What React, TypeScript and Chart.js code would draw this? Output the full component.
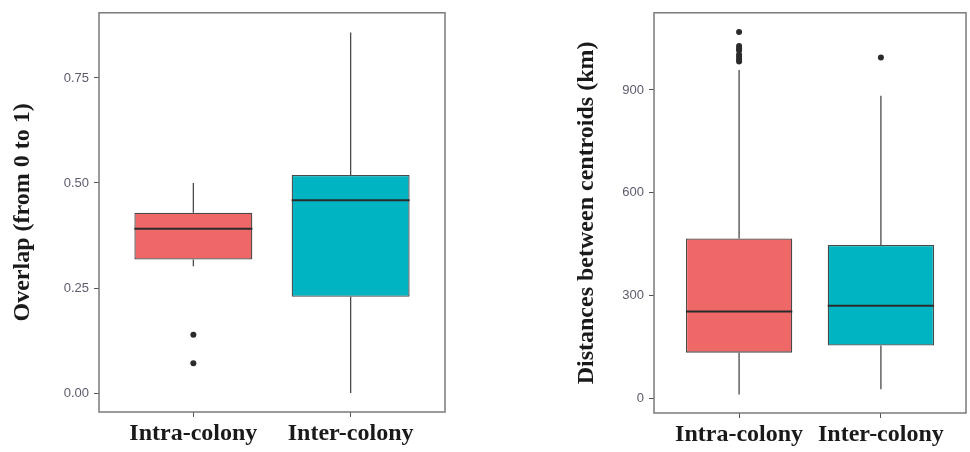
import React, { useEffect, useRef } from "react";
import { Chart, registerables } from "chart.js";

Chart.register(...registerables);

// ---- data ----
const categories = ["Intra-colony", "Inter-colony"];
const categoryPositions = [1, 2];
const boxColors = ["#EE6868", "#00B5C1"];

// Panel A: overlap
const overlapLow = [0.302, 0.0];
const overlapQ1 = [0.318, 0.229];
const overlapMedian = [0.391, 0.459];
const overlapQ3 = [0.429, 0.519];
const overlapHigh = [0.5, 0.858];
const overlapOutliersIntra = [0.139, 0.071];
const overlapOutliersInter: number[] = [];
const overlapTicks = [0, 0.25, 0.5, 0.75];

// Panel B: distances
const distLow = [12, 27];
const distQ1 = [134, 155];
const distMedian = [254, 271];
const distQ3 = [467, 448];
const distHigh = [958, 883];
const distOutliersIntra = [1069, 1028, 1021, 1015, 1003, 996, 989, 983];
const distOutliersInter = [995];
const distTicks = [0, 300, 600, 900];

type PanelSpec = {
  low: number[];
  q1: number[];
  median: number[];
  q3: number[];
  high: number[];
  outliers: number[][];
  ticks: number[];
  tickFormat: (v: number) => string;
  yMin: number;
  yMax: number;
  title: string;
  yAxisWidth: number;
  xAxisHeight: number;
  padTop: number;
  padRight: number;
  titleOffset: number;
};

const boxPlugin = (spec: PanelSpec) => ({
  id: "boxDecor",
  beforeDatasetsDraw(chart: any) {
    const meta = chart.getDatasetMeta(0);
    const y = chart.scales.y;
    const ctx = chart.ctx;
    ctx.save();
    ctx.strokeStyle = "#4a4a4a";
    ctx.lineWidth = 1.3;
    meta.data.forEach((el: any, i: number) => {
      const x = el.x;
      ctx.beginPath();
      ctx.moveTo(x, y.getPixelForValue(spec.q3[i]));
      ctx.lineTo(x, y.getPixelForValue(spec.high[i]));
      ctx.moveTo(x, y.getPixelForValue(spec.q1[i]));
      ctx.lineTo(x, y.getPixelForValue(spec.low[i]));
      ctx.stroke();
    });
    ctx.restore();
  },
  afterDatasetsDraw(chart: any) {
    const meta = chart.getDatasetMeta(0);
    const y = chart.scales.y;
    const ctx = chart.ctx;
    ctx.save();
    ctx.strokeStyle = "#2b2b2b";
    ctx.lineWidth = 2;
    meta.data.forEach((el: any, i: number) => {
      const py = y.getPixelForValue(spec.median[i]);
      ctx.beginPath();
      ctx.moveTo(el.x - el.width / 2, py);
      ctx.lineTo(el.x + el.width / 2, py);
      ctx.stroke();
    });
    ctx.restore();
  },
  afterDraw(chart: any) {
    const a = chart.chartArea;
    const ctx = chart.ctx;
    ctx.save();
    ctx.strokeStyle = "#7a7a7a";
    ctx.lineWidth = 1.5;
    ctx.strokeRect(a.left, a.top, a.right - a.left, a.bottom - a.top);
    ctx.restore();
  },
});

function BoxPanel({ spec }: { spec: PanelSpec }) {
  const ref = useRef<HTMLCanvasElement | null>(null);
  useEffect(() => {
    if (!ref.current) return;
    const outlierPoints: { x: number; y: number }[] = [];
    spec.outliers.forEach((arr, i) =>
      arr.forEach((v) => outlierPoints.push({ x: categoryPositions[i], y: v }))
    );
    const chart = new Chart(ref.current, {
      type: "bar",
      data: {
        datasets: [
          {
            type: "bar",
            data: categoryPositions.map((x, i) => ({ x, y: [spec.q1[i], spec.q3[i]] })) as any,
            backgroundColor: boxColors,
            borderColor: "#4a4a4a",
            borderWidth: 1.3,
            borderSkipped: false,
            categoryPercentage: 1,
            barPercentage: 0.75,
          } as any,
          {
            type: "scatter",
            data: outlierPoints,
            pointRadius: 3,
            pointBackgroundColor: "#2b2b2b",
            pointBorderWidth: 0,
            showLine: false,
          } as any,
        ],
      },
      options: {
        animation: false,
        responsive: false,
        devicePixelRatio: 1,
        layout: { padding: { top: spec.padTop, right: spec.padRight, left: 0, bottom: 0 } },
        plugins: { legend: { display: false }, tooltip: { enabled: false } },
        scales: {
          x: {
            type: "linear",
            min: 0.4,
            max: 2.6,
            offset: false,
            grid: {
              offset: false,
              drawOnChartArea: false,
              drawTicks: true,
              tickLength: 5,
              color: "#555555",
            },
            border: { display: false },
            afterBuildTicks: (scale: any) => {
              scale.ticks = categoryPositions.map((v) => ({ value: v }));
            },
            afterFit: (scale: any) => {
              scale.height = spec.xAxisHeight;
            },
            ticks: {
              padding: 2,
              color: "#1a1a1a",
              font: { family: "'Liberation Serif', serif", size: 24, weight: "bold" },
              callback: (v: any) => categories[categoryPositions.indexOf(Number(v))] ?? "",
              maxRotation: 0,
              autoSkip: false,
            },
          },
          y: {
            type: "linear",
            min: spec.yMin,
            max: spec.yMax,
            grid: {
              drawOnChartArea: false,
              drawTicks: true,
              tickLength: 5,
              color: "#555555",
            },
            border: { display: false },
            afterBuildTicks: (scale: any) => {
              scale.ticks = spec.ticks.map((v) => ({ value: v }));
            },
            afterFit: (scale: any) => {
              scale.width = spec.yAxisWidth;
            },
            ticks: {
              padding: 5,
              color: "#5E5A6E",
              font: { family: "'Liberation Sans', Arial, sans-serif", size: 13 },
              callback: (v: any) => spec.tickFormat(Number(v)),
            },
            title: {
              display: true,
              text: spec.title,
              color: "#1a1a1a",
              font: { family: "'Liberation Serif', serif", size: 24, weight: "bold" },
              padding: { top: spec.titleOffset, bottom: 0 },
            },
          },
        },
      },
      plugins: [boxPlugin(spec)],
    } as any);
    return () => chart.destroy();
  }, [spec]);
  return <canvas ref={ref} width={485} height={452} style={{ display: "block" }} />;
}

const overlapSpec: PanelSpec = {
  low: overlapLow,
  q1: overlapQ1,
  median: overlapMedian,
  q3: overlapQ3,
  high: overlapHigh,
  outliers: [overlapOutliersIntra, overlapOutliersInter],
  ticks: overlapTicks,
  tickFormat: (v) => v.toFixed(2),
  yMin: -0.045,
  yMax: 0.905,
  title: "Overlap (from 0 to 1)",
  yAxisWidth: 99,
  xAxisHeight: 40,
  padTop: 9,
  padRight: 40,
  titleOffset: 8.6,
};

const distSpec: PanelSpec = {
  low: distLow,
  q1: distQ1,
  median: distMedian,
  q3: distQ3,
  high: distHigh,
  outliers: [distOutliersIntra, distOutliersInter],
  ticks: distTicks,
  tickFormat: (v) => String(v),
  yMin: -42,
  yMax: 1125,
  title: "Distances between centroids (km)",
  yAxisWidth: 169,
  xAxisHeight: 39,
  padTop: 11,
  padRight: 3,
  titleOffset: 87.6,
};

export default function App() {
  return (
    <div
      style={{
        position: "absolute",
        left: 0,
        top: 0,
        width: 970,
        height: 452,
        background: "#ffffff",
        display: "flex",
      }}
    >
      <BoxPanel spec={overlapSpec} />
      <BoxPanel spec={distSpec} />
    </div>
  );
}
